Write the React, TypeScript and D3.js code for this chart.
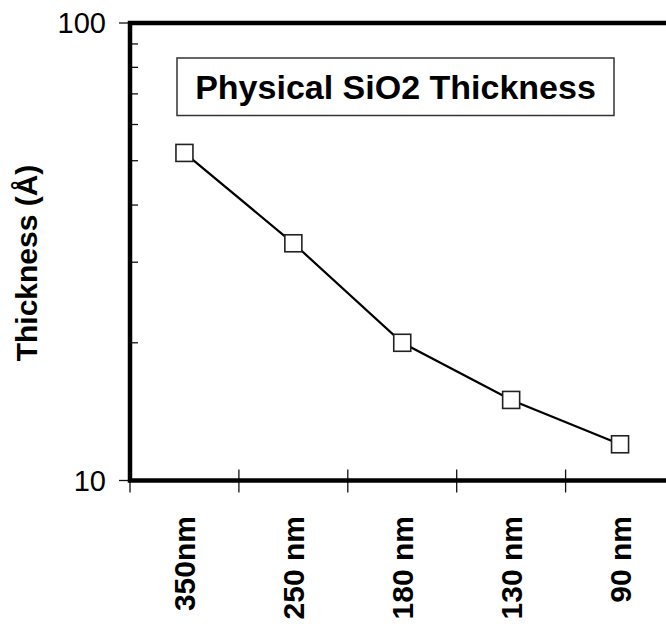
import React, { useEffect, useRef } from 'react';
import * as d3 from 'd3';

const nodes = ['350nm', '250 nm', '180 nm', '130 nm', '90 nm'];
const thickness = [52, 33, 20, 15, 12];
const majorTicks = [10, 100];
const minorTicks = [20, 30, 40, 50, 60, 70, 80, 90];
const chartTitle = 'Physical SiO2 Thickness';
const yTitle = 'Thickness (Å)';

const App: React.FC = () => {
  const svgRef = useRef<SVGSVGElement>(null);

  useEffect(() => {
    if (!svgRef.current) return;
    const width = 666;
    const height = 626;
    const margin = { top: 23, left: 130, bottom: 145.5 };
    const plotRight = 674.5;
    const font = "'Liberation Sans', Arial, Helvetica, sans-serif";

    const svg = d3.select(svgRef.current);
    svg.selectAll('*').remove();
    svg.attr('width', width).attr('height', height);

    const x = d3.scaleBand<string>().domain(nodes).range([margin.left, plotRight]);
    const y = d3
      .scaleLog()
      .domain([10, 100])
      .range([height - margin.bottom, margin.top]);

    const y0 = y(10);
    const y1 = y(100);

    // minor ticks inside, major ticks outside
    svg
      .selectAll('line.minor')
      .data(minorTicks)
      .enter()
      .append('line')
      .attr('class', 'minor')
      .attr('x1', margin.left)
      .attr('x2', margin.left + 8)
      .attr('y1', (d) => y(d))
      .attr('y2', (d) => y(d))
      .attr('stroke', '#111')
      .attr('stroke-width', 1.3);

    svg
      .selectAll('line.major')
      .data(majorTicks)
      .enter()
      .append('line')
      .attr('class', 'major')
      .attr('x1', margin.left - 11)
      .attr('x2', margin.left)
      .attr('y1', (d) => y(d))
      .attr('y2', (d) => y(d))
      .attr('stroke', '#111')
      .attr('stroke-width', 1.3);

    svg
      .selectAll('text.ylab')
      .data(majorTicks)
      .enter()
      .append('text')
      .attr('class', 'ylab')
      .attr('x', 106)
      .attr('y', (d) => y(d))
      .attr('dy', '0.36em')
      .attr('text-anchor', 'end')
      .style('font-family', font)
      .style('font-size', '29px')
      .text((d) => d);

    // x ticks at band boundaries, crossing the axis
    const bounds = nodes.map((n) => x(n) as number);
    svg
      .selectAll('line.xtick')
      .data(bounds)
      .enter()
      .append('line')
      .attr('class', 'xtick')
      .attr('x1', (d) => d)
      .attr('x2', (d) => d)
      .attr('y1', y0 - 11)
      .attr('y2', y0 + 12)
      .attr('stroke', '#111')
      .attr('stroke-width', 1.3);

    // frame
    svg
      .append('path')
      .attr('d', `M${plotRight},${y1}H${margin.left}V${y0}H${plotRight}`)
      .attr('fill', 'none')
      .attr('stroke', '#000')
      .attr('stroke-width', 4.5);

    // title box
    svg
      .append('rect')
      .attr('x', 177)
      .attr('y', 58)
      .attr('width', 437)
      .attr('height', 57.5)
      .attr('fill', '#fff')
      .attr('stroke', '#333')
      .attr('stroke-width', 1.5);

    svg
      .append('text')
      .attr('x', 395.5)
      .attr('y', 87)
      .attr('dy', '0.36em')
      .attr('text-anchor', 'middle')
      .style('font-family', font)
      .style('font-weight', 'bold')
      .style('font-size', '34px')
      .text(chartTitle);

    // series
    const cx = (d: string) => (x(d) as number) + x.bandwidth() / 2;
    const line = d3
      .line<number>()
      .x((d, i) => cx(nodes[i]))
      .y((d) => y(d));

    svg
      .append('path')
      .datum(thickness)
      .attr('d', line)
      .attr('fill', 'none')
      .attr('stroke', '#000')
      .attr('stroke-width', 2.2);

    const s = 17;
    svg
      .selectAll('rect.marker')
      .data(thickness)
      .enter()
      .append('rect')
      .attr('class', 'marker')
      .attr('x', (d, i) => cx(nodes[i]) - s / 2)
      .attr('y', (d) => y(d) - s / 2)
      .attr('width', s)
      .attr('height', s)
      .attr('fill', '#fff')
      .attr('stroke', '#222')
      .attr('stroke-width', 1.6);

    // x labels, rotated
    svg
      .selectAll('text.xlab')
      .data(nodes)
      .enter()
      .append('text')
      .attr('class', 'xlab')
      .attr('transform', (d) => `translate(${cx(d)},516) rotate(-90)`)
      .attr('dy', '0.36em')
      .attr('text-anchor', 'end')
      .style('font-family', font)
      .style('font-weight', 'bold')
      .style('font-size', '30px')
      .text((d) => d);

    // y title
    svg
      .append('text')
      .attr('transform', `translate(37,263) rotate(-90)`)
      .attr('text-anchor', 'middle')
      .style('font-family', font)
      .style('font-weight', 'bold')
      .style('font-size', '30px')
      .text(yTitle);
  }, []);

  return (
    <div style={{ position: 'absolute', left: 0, top: 0, background: '#fff' }}>
      <svg ref={svgRef} style={{ display: 'block' }} />
    </div>
  );
};

export default App;
